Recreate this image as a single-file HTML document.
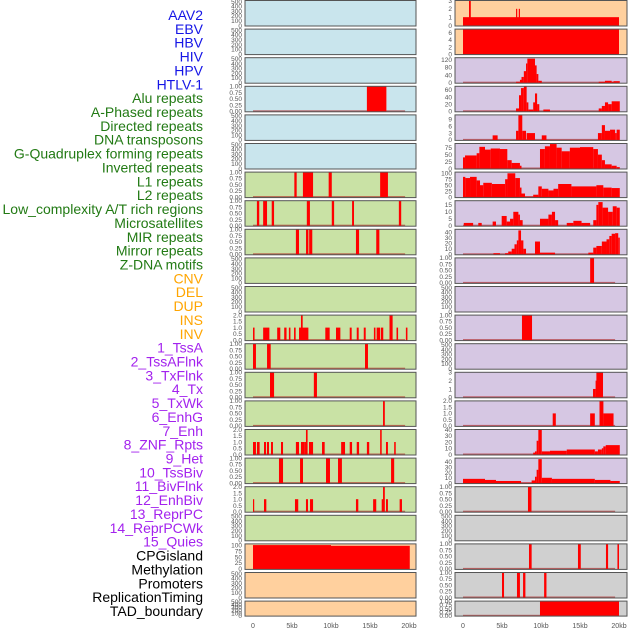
<!DOCTYPE html>
<html><head><meta charset="utf-8"><style>
body{margin:0;background:#fff;width:630px;height:630px;overflow:hidden;font-family:"Liberation Sans",sans-serif}
svg text{font-family:"Liberation Sans",sans-serif}
</style></head><body>
<svg id="chart" width="630" height="630"></svg>
<script>
const trackLabels=["AAV2","EBV","HBV","HIV","HPV","HTLV-1","Alu repeats","A-Phased repeats","Directed repeats","DNA transposons","G-Quadruplex forming repeats","Inverted repeats","L1 repeats","L2 repeats","Low_complexity A/T rich regions","Microsatellites","MIR repeats","Mirror repeats","Z-DNA motifs","CNV","DEL","DUP","INS","INV","1_TssA","2_TssAFlnk","3_TxFlnk","4_Tx","5_TxWk","6_EnhG","7_Enh","8_ZNF_Rpts","9_Het","10_TssBiv","11_BivFlnk","12_EnhBiv","13_ReprPC","14_ReprPCWk","15_Quies","CPGisland","Methylation","Promoters","ReplicationTiming","TAD_boundary"];
const labelGroups=[6,13,5,15,5];
const xTicks=[0,5,10,15,20];
const xTickLabels=["0","5kb","10kb","15kb","20kb"];
const leftYMax=[520,520,520,1,520,520,1,1,1,520,520,2,1,1,1,2,1,2,520,105,520,520];
const leftYStep=[100,100,100,0.25,100,100,0.25,0.25,0.25,100,100,0.5,0.25,0.25,0.25,0.5,0.25,0.5,100,25,100,100];
const rightYMax=[3,7,130,70,11,90,105,18,45,1,520,1,520,3,2,40,47,1,520,1,1,1];
const rightYStep=[1,2,40,20,3,25,25,5,10,0.25,100,0.25,100,1,0.5,10,10,0.25,100,0.25,0.25,0.25];
const leftBg=["b","b","b","b","b","b","g","g","g","g","g","g","g","g","g","g","g","g","g","o","o","o"];
const rightBg=["o","o","p","p","p","p","p","p","p","p","p","p","p","p","p","p","p","g2","g2","g2","g2","g2"];
const leftBars=[[],[],[],[[14.6,17.1,1]],[],[],
[[5.3,5.6,1],[6.4,7.7,1],[9.7,10.1,1],[16.3,17.3,1]],
[[0.5,0.8,1],[1.3,1.8,1],[2.4,2.7,1],[6.9,7.3,1],[10.1,10.4,1],[12.7,12.95,1],[18.7,19.0,1]],
[[5.5,5.9,1],[6.8,7.1,1],[7.2,7.6,1],[13.2,13.6,1],[15.8,16.2,1]],
[],[],
[[0,0.2,1],[1.3,2.1,1],[3.1,3.5,1],[4.0,4.3,1],[4.6,4.8,1],[5.26,5.47,1],[5.9,7.1,1],[6.15,6.37,2],[9.27,9.83,1],[10.64,11.2,1],[12.4,12.65,1],[13.3,13.55,1],[14.2,14.45,1],[15.5,15.7,1],[15.85,16.3,1],[16.4,16.7,1],[17.5,17.9,2],[18.4,18.6,1],[19.6,19.8,1]],
[[0,0.38,1],[1.8,2.27,1],[14.36,14.74,1]],
[[2.18,2.7,1],[7.8,8.2,1]],
[[16.67,16.9,1]],
[[0,0.38,1],[0.51,0.85,1],[1.41,1.67,1],[1.79,2.05,1],[2.31,2.56,1],[3.59,3.85,1],[5.5,5.9,1],[6.15,6.58,1],[6.58,6.79,1],[6.79,7.0,2],[7.18,7.7,1],[8.85,9.19,1],[11.3,11.8,1],[12.4,12.7,1],[13.3,13.6,1],[14.6,14.9,1],[16.3,16.5,2],[17.05,17.3,1],[18.1,18.3,1]],
[[3.33,3.85,1],[6.03,6.41,1],[9.36,9.87,1],[10.9,11.4,1],[17.7,18.1,1]],
[[0,0.13,1],[1.41,1.71,1],[5.38,5.8,1],[6.79,7.05,1],[7.31,7.7,1],[13.2,13.5,1],[15.4,15.8,1],[16.5,16.67,1],[16.67,16.9,2],[17.05,17.3,1],[18.8,19.1,1]],
[],
[[0,10,100],[10,20.1,97]],
[],[]];
const rightBars=[
[[0,20,1],[0.77,1.0,3],[6.8,6.95,2],[7.15,7.3,2]],
[[0,20,7]],
[[6.8,7.3,5],[7.3,7.5,15],[7.5,7.8,30],[7.8,8.08,60],[8.08,8.25,100],[8.25,9.23,125],[9.23,9.44,90],[9.44,9.66,45],[9.66,10.1,10],[17.4,18.2,5],[18.2,19.06,10],[19.06,19.3,5],[19.3,20.1,8]],
[[6.8,7.18,8],[7.18,7.44,45],[7.44,7.8,65],[7.8,8.16,70],[8.16,8.38,25],[8.38,9.0,5],[9.0,9.23,25],[9.23,9.5,50],[9.5,9.78,20],[10.3,11.15,5],[17.4,17.8,8],[17.8,18.2,15],[18.2,18.6,25],[18.6,19.06,20],[19.06,20.1,28]],
[[3.8,4.44,2],[6.8,7.1,4],[7.1,7.6,11],[7.6,8.08,4],[8.16,9.23,3],[10.1,10.7,2],[17.3,17.8,3],[17.8,18.2,6.5],[18.2,18.85,4],[18.85,19.5,4.5],[19.5,19.7,3],[19.7,20.1,4.5]],
[[0,0.26,40],[0.26,1.75,47],[1.75,2.1,55],[2.1,2.82,78],[2.82,3.55,68],[3.55,4.74,72],[4.74,5.68,70],[5.68,6.24,30],[6.24,7.3,20],[7.3,7.5,10],[9.87,10.5,70],[10.5,11.15,80],[11.15,12.0,88],[12.0,12.65,75],[12.65,13.7,62],[13.7,15.0,75],[15.0,16.7,77],[16.7,17.3,70],[17.3,17.8,50],[17.8,18.2,30],[18.2,19.06,15],[19.06,19.7,10],[19.7,20.1,5]],
[[0,0.3,85],[0.3,0.9,80],[0.9,1.75,85],[1.75,2.18,70],[2.18,2.6,50],[2.6,3.7,60],[3.7,5.4,55],[5.4,5.7,75],[5.7,6.7,100],[6.7,7.3,80],[7.3,7.5,40],[7.5,7.95,15],[7.95,9.0,2],[9.0,9.66,10],[9.66,10.1,45],[10.1,10.95,35],[10.95,11.6,28],[11.6,12.2,35],[12.2,13.9,55],[13.9,17.1,45],[17.1,17.99,50],[17.99,19.06,40],[19.06,20.1,38]],
[[0.1,1.3,2],[1.96,2.4,2],[3.8,4.23,3],[4.96,5.6,7],[5.6,6.03,3],[6.03,6.45,5],[6.45,7.1,10],[7.1,7.3,8],[7.3,7.65,4],[9.87,10.95,5],[10.95,11.4,8],[11.4,11.8,10],[11.8,12.2,4],[13.3,14.15,2],[14.15,15.2,3.5],[15.2,16.3,2],[16.7,17.1,4],[17.1,17.35,15],[17.35,17.9,17],[17.9,18.6,13],[18.6,19.2,10],[19.2,19.7,14],[19.7,20.1,13]],
[[3.9,4.74,2],[5.4,5.8,2],[5.8,6.24,5],[6.24,6.6,10],[6.6,6.9,18],[6.9,7.1,25],[7.1,7.44,43],[7.44,7.74,25],[7.74,8.08,10],[8.08,9.23,1],[9.23,9.87,23],[9.87,11.8,3],[16.07,16.7,3],[16.7,17.1,12],[17.1,17.8,15],[17.8,18.4,23],[18.4,18.76,27],[18.76,19.06,33],[19.06,19.5,37],[19.5,19.9,38],[19.9,20.1,30]],
[[16.3,16.8,1]],
[],
[[7.56,8.85,1]],
[],
[[16.67,17.0,1],[17.0,17.1,2],[17.1,17.95,3]],
[[11.5,11.9,1],[16.3,16.9,1],[17.5,18.0,2],[18.0,19.3,1]],
[[9.0,9.23,3],[9.23,9.44,5],[9.44,9.66,22],[9.66,10.1,40],[10.1,11.15,5],[11.15,13.3,6],[13.3,16.9,8],[16.9,17.3,5],[17.3,17.8,8],[17.8,17.99,10],[17.99,18.3,13],[18.3,20.1,15]],
[[0,2.82,8],[2.82,4.23,6],[4.23,7.44,4],[7.44,8.8,0.5],[8.8,9.23,5],[9.23,9.44,12],[9.44,9.66,25],[9.66,10.1,45],[10.1,11.4,10],[11.4,16.9,8],[16.9,18.9,6],[18.9,20.1,4]],
[[8.33,8.78,1]],
[],
[[8.46,8.8,1],[14.74,15.1,1],[18.33,18.6,1],[19.8,20.0,1]],
[[5.0,5.26,1],[6.92,7.3,1],[7.7,8.0,1],[10.4,10.7,1]],
[[9.87,20.0,1]]];
const bgColors={b:"#c9e5ed",g:"#c9e2a5",o:"#ffd09e",p:"#d6c7e3",g2:"#d0d0d0"};
const groupColors=["#1515e6","#227a14","#ffa500","#a322ee","#000000"];

const NS="http://www.w3.org/2000/svg";
const svg=document.getElementById('chart');
function mk(tag,attrs,parent){const e=document.createElementNS(NS,tag);for(const k in attrs)e.setAttribute(k,attrs[k]);(parent||svg).appendChild(e);return e;}

let li=0;
labelGroups.forEach((n,g)=>{for(let j=0;j<n;j++){
  const t=mk('text',{x:203,y:15+li*13.86+5,'text-anchor':'end','font-size':'14',fill:groupColors[g]});
  t.textContent=trackLabels[li];
  
  
  li++;}});

function panelTop(i){return 0.5+i*28.6;}
function panelH(i){return i===21?15:25.5;}
function drawColumn(colName,x0,x1,kx0,kx1,yMax,yStep,bgs,bars){
  const xs=k=>kx0+(kx1-kx0)*k/20;
  for(let i=0;i<22;i++){
    const top=panelTop(i),h=panelH(i);
    const g=mk('g',{});
    
    
    const bg=mk('rect',{x:x0,y:top,width:x1-x0,height:h,fill:bgColors[bgs[i]]},g);
    
    
    const ymin=-yMax[i]*0.02;
    const ys=v=>top+h-(v-ymin)/(yMax[i]-ymin)*h;
    const b=bars[i];
    if(b.length && !(b.length===1&&b[0][1]-b[0][0]>15&&b[0][2]===yMax[i])){
      const bl=mk('rect',{x:xs(0),y:ys(0)-1,width:xs(19.5)-xs(0),height:1.5,fill:'rgba(170,20,20,0.6)'},g);
      
      
    }
    b.forEach(d=>{
      const yTop=Math.max(top,ys(d[2]));
      const r=mk('rect',{x:xs(d[0]),y:yTop,width:Math.max(1.2,xs(d[1])-xs(d[0])),height:top+h-yTop,fill:'#ff0000'},g);
      
      
    });
    const br=mk('rect',{x:x0,y:top,width:x1-x0,height:h,fill:'none',stroke:'#555','stroke-width':1},g);
    
    
    const dec=yStep[i]<1?(yMax[i]<=1?2:1):0;
    for(let v=0;v<=yMax[i]+1e-9;v+=yStep[i]){
      if(yMax[i]===520&&v>500)break;
      const t=mk('text',{x:x0-3,y:ys(v)+2.3,'text-anchor':'end','font-size':'6.5',fill:'#555'},g);
      t.textContent=v.toFixed(dec);
      
      
    }
  }
  xTicks.forEach((k,j)=>{
    const t=mk('text',{x:xs(k),y:628,'text-anchor':'middle','font-size':'7',fill:'#555'});
    t.textContent=xTickLabels[j];
    
    
  });
}
drawColumn('left',245,416,253,409,leftYMax,leftYStep,leftBg,leftBars);
drawColumn('right',455,627,463,619,rightYMax,rightYStep,rightBg,rightBars);
</script>
</body></html>
